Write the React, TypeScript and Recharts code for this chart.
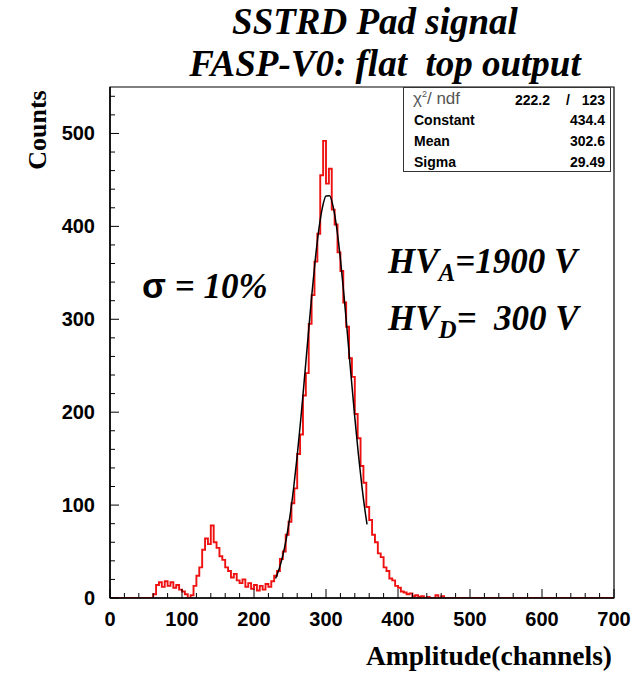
import { LineChart, Line, XAxis, YAxis, ReferenceArea } from "recharts";

// histogram: 4-channel bins starting at channel 56
const binStart = 56;
const binWidth = 4;
const counts = [
  0, 4, 14, 17, 12, 18, 13, 17, 11, 14,
  9, 7, 4, 0, 3, 13, 24, 33, 52, 64,
  58, 78, 60, 54, 45, 41, 33, 29, 22, 26,
  19, 16, 20, 12, 16, 10, 14, 8, 13, 9,
  15, 12, 18, 24, 29, 42, 50, 68, 82, 102,
  118, 155, 176, 218, 242, 295, 326, 362, 392, 455,
  492, 446, 462, 418, 402, 372, 352, 318, 292, 258,
  238, 198, 172, 142, 124, 98, 84, 68, 60, 48,
  44, 33, 29, 21, 19, 13, 11, 7, 6, 4,
  5, 2, 3, 1, 2, 0, 1, 0, 0, 3,
  0, 2, 0,
];

// gaussian fit curve
const fitChannels = [
  230, 235, 240, 245, 250, 255, 260, 265, 270, 275, 280, 285, 290, 295,
  300, 305, 310, 315, 320, 325, 330, 335, 340, 345, 350, 355, 357,
];
const fitCounts = [
  21.0, 31.4, 45.6, 64.5, 88.5, 118.1, 153.0, 192.7, 235.8, 280.3, 323.9,
  363.5, 396.5, 420.2, 432.7, 433.0, 420.9, 397.6, 365.0, 325.5, 282.1,
  237.5, 194.4, 154.5, 119.4, 89.6, 79.2,
];

const xTicks = [
  0, 20, 40, 60, 80, 100, 120, 140, 160, 180, 200, 220, 240, 260, 280, 300,
  320, 340, 360, 380, 400, 420, 440, 460, 480, 500, 520, 540, 560, 580, 600,
  620, 640, 660, 680, 700,
];
const yTicks = [
  0, 20, 40, 60, 80, 100, 120, 140, 160, 180, 200, 220, 240, 260, 280, 300,
  320, 340, 360, 380, 400, 420, 440, 460, 480, 500, 520, 540,
];

const stats = [
  { name: "Constant", value: "434.4" },
  { name: "Mean", value: "302.6" },
  { name: "Sigma", value: "29.49" },
];

const histData = [
  { ch: 0, count: 0 },
  ...counts.map((c, i) => ({ ch: binStart + i * binWidth, count: c })),
  { ch: 700, count: 0 },
];
const fitData = fitChannels.map((ch, i) => ({ ch, count: fitCounts[i] }));

const SANS = "'Liberation Sans', Arial, sans-serif";
const SERIF = "'Liberation Serif', 'Times New Roman', serif";

const XTick = (props: any) => {
  const { x, y, payload } = props;
  const major = payload.value % 100 === 0;
  return (
    <g>
      <line x1={x} x2={x} y1={y} y2={y - (major ? 9 : 5)} stroke="#000" />
      {major && (
        <text
          x={x}
          y={y + 28}
          textAnchor="middle"
          fontFamily={SANS}
          fontWeight="bold"
          fontSize={20}
          fill="#000"
        >
          {payload.value}
        </text>
      )}
    </g>
  );
};

const YTick = (props: any) => {
  const { x, y, payload } = props;
  const major = payload.value % 100 === 0;
  return (
    <g>
      <line x1={x} x2={x + (major ? 9 : 5)} y1={y} y2={y} stroke="#000" />
      {major && (
        <text
          x={x - 15}
          y={y + 7}
          textAnchor="end"
          fontFamily={SANS}
          fontWeight="bold"
          fontSize={20}
          fill="#000"
        >
          {payload.value}
        </text>
      )}
    </g>
  );
};

export default function App() {
  return (
    <div
      style={{
        position: "absolute",
        left: 0,
        top: 0,
        width: 644,
        height: 673,
        background: "#fff",
      }}
    >
      <LineChart
        width={644}
        height={673}
        margin={{ top: 87, right: 30, bottom: 35, left: 60 }}
      >
        <XAxis
          type="number"
          dataKey="ch"
          domain={[0, 700]}
          ticks={xTicks}
          interval={0}
          tickSize={0}
          tickMargin={0}
          tickLine={false}
          tick={<XTick />}
          axisLine={{ stroke: "#000", strokeWidth: 1.5 }}
          height={40}
          allowDataOverflow
        />
        <YAxis
          type="number"
          domain={[0, 550]}
          ticks={yTicks}
          interval={0}
          tickSize={0}
          tickMargin={0}
          tickLine={false}
          tick={<YTick />}
          axisLine={{ stroke: "#000", strokeWidth: 1.5 }}
          width={50}
          allowDataOverflow
        />
        <ReferenceArea
          x1={0}
          x2={700}
          y1={0}
          y2={550}
          fill="none"
          stroke="#000"
          strokeWidth={1.2}
          ifOverflow="visible"
        />
        <Line
          data={histData}
          dataKey="count"
          type="stepAfter"
          stroke="#ee1111"
          strokeWidth={1.9}
          dot={false}
          isAnimationActive={false}
        />
        <Line
          data={fitData}
          dataKey="count"
          type="monotone"
          stroke="#000"
          strokeWidth={1.5}
          dot={false}
          isAnimationActive={false}
        />
      </LineChart>

      {/* stats box */}
      <div
        style={{
          position: "absolute",
          left: 403,
          top: 87,
          width: 208,
          height: 85,
          border: "1px solid #333",
          background: "#fff",
          fontFamily: SANS,
          boxSizing: "border-box",
        }}
      >
        <div
          style={{
            position: "absolute",
            left: 9,
            top: 1,
            fontSize: 17,
            color: "#555",
          }}
        >
          χ<sup style={{ fontSize: 9 }}>2</sup>/ ndf
        </div>
        <div
          style={{
            position: "absolute",
            right: 60,
            top: 4,
            fontSize: 14,
            fontWeight: "bold",
          }}
        >
          222.2
        </div>
        <div
          style={{
            position: "absolute",
            right: 5,
            top: 4,
            fontSize: 14,
            fontWeight: "bold",
          }}
        >
          /&nbsp;&nbsp; 123
        </div>
        {stats.map((s, i) => (
          <div key={s.name}>
            <div
              style={{
                position: "absolute",
                left: 10,
                top: 24 + i * 21,
                fontSize: 14,
                fontWeight: "bold",
              }}
            >
              {s.name}
            </div>
            <div
              style={{
                position: "absolute",
                right: 5,
                top: 24 + i * 21,
                fontSize: 14,
                fontWeight: "bold",
              }}
            >
              {s.value}
            </div>
          </div>
        ))}
      </div>

      <svg
        width={644}
        height={673}
        style={{ position: "absolute", left: 0, top: 0, pointerEvents: "none" }}
      >
        <g fontFamily={SERIF} fontWeight="bold" fontStyle="italic" fontSize={37}>
          <text x={375} y={34} textAnchor="middle">
            SSTRD Pad signal
          </text>
          <text x={385} y={76} textAnchor="middle" xmlSpace="preserve">
            FASP-V0: flat  top output
          </text>
        </g>
        <text
          transform="rotate(-90, 37, 130)"
          x={37}
          y={130}
          textAnchor="middle"
          dominantBaseline="central"
          fontFamily={SERIF}
          fontWeight="bold"
          fontSize={26}
        >
          Counts
        </text>
        <text
          x={612}
          y={665}
          textAnchor="end"
          fontFamily={SERIF}
          fontWeight="bold"
          fontSize={27.5}
        >
          Amplitude(channels)
        </text>
        <text x={142} y={298} fontSize={35} fontWeight="bold">
          <tspan fontFamily={SANS}>σ</tspan>
          <tspan fontFamily={SERIF} fontStyle="italic"> = 10%</tspan>
        </text>
        <g fontFamily={SERIF} fontWeight="bold" fontStyle="italic">
          <text x={388} y={273} fontSize={35}>
            HV
            <tspan fontSize={25} dy={8}>A</tspan>
            <tspan dy={-8}>=1900 V</tspan>
          </text>
          <text x={388} y={330} fontSize={35} xmlSpace="preserve">
            HV
            <tspan fontSize={25} dy={8}>D</tspan>
            <tspan dy={-8}>=  300 V</tspan>
          </text>
        </g>
      </svg>
    </div>
  );
}
